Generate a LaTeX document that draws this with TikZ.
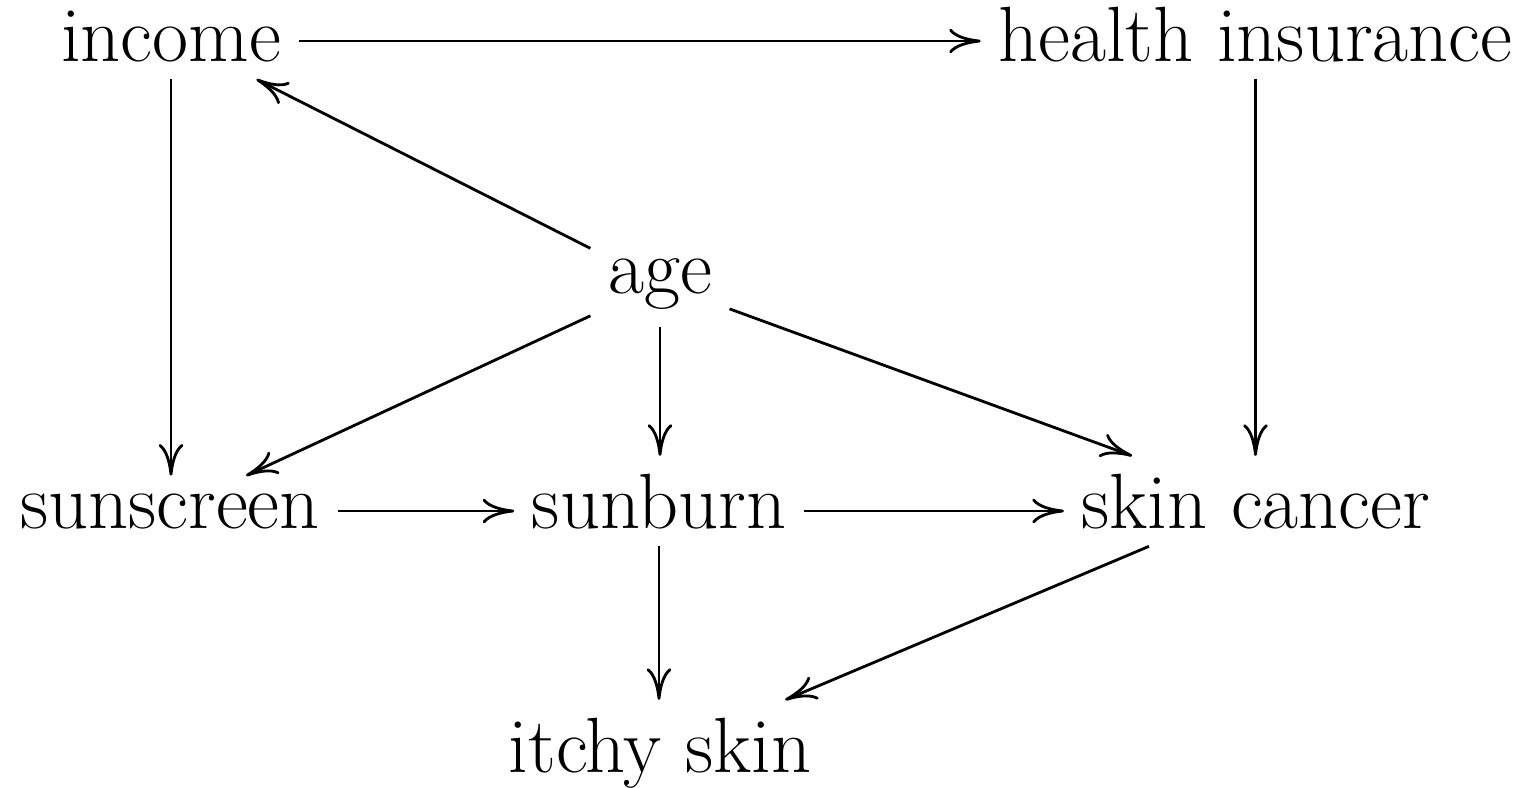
\documentclass[tikz,border=0pt]{standalone}
\usetikzlibrary{arrows.meta}
\begin{document}
\begin{tikzpicture}[
  var/.style={anchor=base, inner sep=0.17cm, font=\fontsize{22.3}{26}\selectfont},
  edge/.style={-{Computer Modern Rightarrow[length=9pt,width=7pt]}, line width=0.8pt}
]
\useasboundingbox (0,0) rectangle (15.26,-7.87);
\node[var] (inc) at (1.71,-0.61) {income};
\node[var] (hi)  at (12.555,-0.61) {health insurance};
\node[var] (age) at (6.60,-2.93) {age};
\node[var] (ss)  at (1.70,-5.28) {sunscreen};
\node[var] (sb)  at (6.59,-5.28) {sunburn};
\node[var] (sc)  at (12.56,-5.28) {skin cancer};
\node[var] (it)  at (6.60,-7.72) {itchy skin};
\coordinate (top) at ([yshift=-0.05cm]inc.east);
\draw[edge] (top) -- (hi.west |- top);
\draw[edge] (inc.south) -- (inc.south |- ss.north);
\draw[edge] (hi.south) -- (hi.south |- sc.north);
\draw[edge] (age) -- (inc);
\draw[edge] (age) -- (ss);
\draw[edge] (age.south) -- (age.south |- sb.north);
\draw[edge] (age) -- (sc);
\draw[edge] (ss.east) -- (sb.west |- ss.east);
\draw[edge] (sb.east |- ss.east) -- (sc.west |- ss.east);
\draw[edge] (sb.south) -- (sb.south |- it.north);
\draw[edge] (sc) -- (it);
\end{tikzpicture}
\end{document}
